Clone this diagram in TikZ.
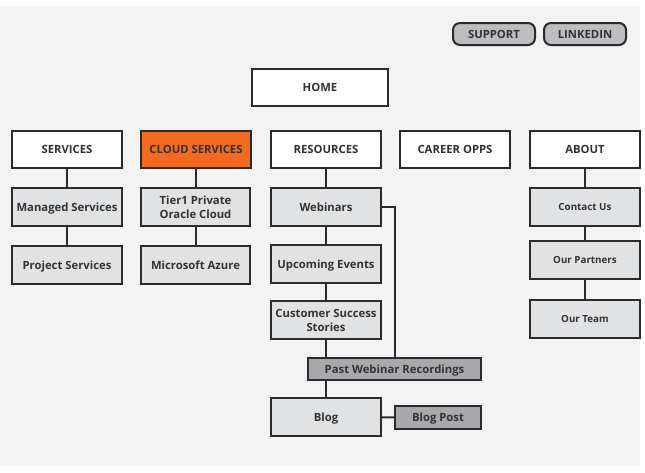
\documentclass[tikz,border=0pt]{standalone}
\usepackage{fontspec}
\setmainfont{Open Sans}
\definecolor{bgc}{HTML}{F3F3F3}
\definecolor{linec}{HTML}{2B2B2B}
\definecolor{lightf}{HTML}{E1E2E4}
\definecolor{darkf}{HTML}{A8A9AC}
\definecolor{btnf}{HTML}{BDBEC1}
\definecolor{orangef}{HTML}{F26B21}
\definecolor{txtc}{HTML}{333333}
\tikzset{
  basebox/.style={draw=linec, line width=2pt, rectangle, align=center, text=txtc, font=\bfseries\fontsize{11.3}{14}\selectfont, inner sep=1pt},
  box/.style={basebox, text height=8.1pt, text depth=0pt},
  topbox/.style={box, fill=white, minimum width=110pt, minimum height=37pt},
  subbox/.style={box, fill=lightf, minimum width=110pt, minimum height=38pt},
  twoline/.style={basebox, fill=lightf, minimum width=110pt, minimum height=38pt},
  smallbox/.style={subbox, font=\bfseries\fontsize{9.8}{12}\selectfont, text height=7pt},
  darkbox/.style={box, fill=darkf, minimum height=22pt},
  btn/.style={box, fill=btnf, rounded corners=7pt, minimum width=82pt, minimum height=22pt},
  conn/.style={draw=linec, line width=2pt}
}
\begin{document}
\begin{tikzpicture}[x=1pt,y=-1pt]
\useasboundingbox (0,0) rectangle (645,472);
\fill[white] (0,0) rectangle (645,472);
\fill[bgc] (0,6) rectangle (640,466);
\node[btn] (support) at (494,34) {SUPPORT};
\node[btn] (linkedin) at (585,34) {LINKEDIN};
\node[topbox, minimum width=136pt] (home) at (320,87.5) {HOME};
\node[topbox] (services) at (67,149.5) {SERVICES};
\node[topbox, fill=orangef] (cloud) at (196,149.5) {CLOUD SERVICES};
\node[topbox] (resources) at (326,149.5) {RESOURCES};
\node[topbox] (career) at (455,149.5) {CAREER OPPS};
\node[topbox] (about) at (585,149.5) {ABOUT};
\node[subbox] (managed) at (67,207) {Managed Services};
\node[subbox] (project) at (67,265) {Project Services};
\node[twoline, minimum width=109pt] (tier1) at (195.5,207) {Tier1 Private\\Oracle Cloud};
\node[subbox, minimum width=109pt] (azure) at (195.5,265) {Microsoft Azure};
\node[subbox] (webinars) at (326,207) {Webinars};
\node[subbox] (upcoming) at (326,264) {Upcoming Events};
\node[twoline] (customer) at (326,320) {Customer Success\\Stories};
\node[darkbox, minimum width=173pt] (past) at (394.5,369) {Past Webinar Recordings};
\node[subbox] (blog) at (326,417) {Blog};
\node[darkbox, minimum width=86pt, minimum height=23pt] (blogpost) at (438,417.5) {Blog Post};
\node[smallbox] (contact) at (585,207) {Contact Us};
\node[smallbox] (partners) at (585,260) {Our Partners};
\node[smallbox] (team) at (585,319) {Our Team};
\draw[conn] (services) -- (managed);
\draw[conn] (managed) -- (project);
\draw[conn] (cloud.south -| tier1) -- (tier1);
\draw[conn] (tier1) -- (azure);
\draw[conn] (resources) -- (webinars);
\draw[conn] (webinars) -- (upcoming);
\draw[conn] (upcoming) -- (customer);
\draw[conn] (customer.south) -- (customer.south |- past.north);
\draw[conn] (blog.north |- past.south) -- (blog.north);
\draw[conn] (blog) -- (blogpost);
\draw[conn] (webinars.east) -| (past.north);
\draw[conn] (about) -- (contact);
\draw[conn] (contact) -- (partners);
\draw[conn] (partners) -- (team);
\end{tikzpicture}
\end{document}
